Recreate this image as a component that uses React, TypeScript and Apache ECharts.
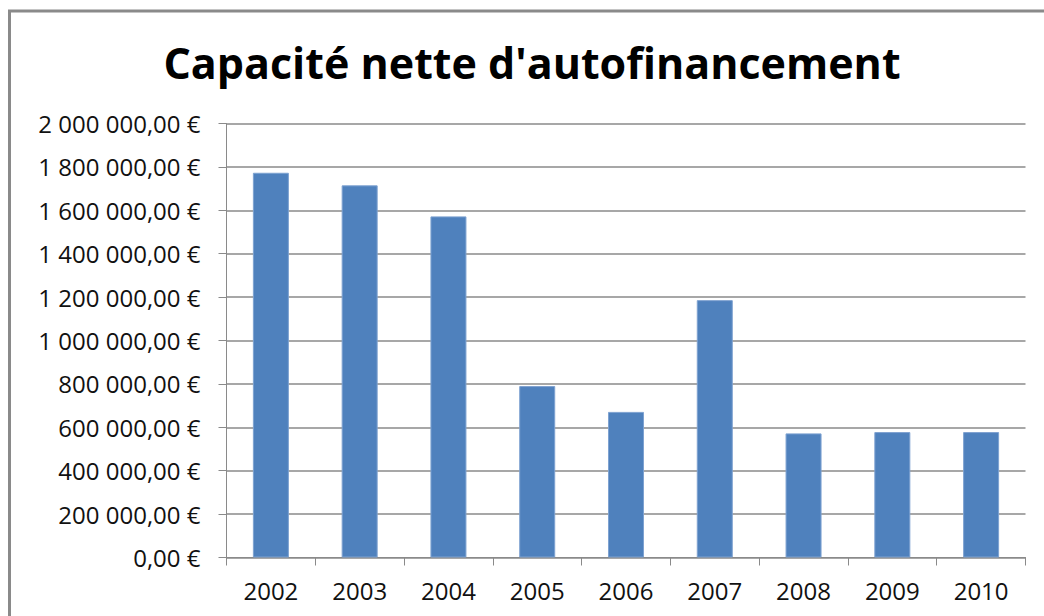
import React, { useEffect, useRef } from "react";
import * as echarts from "echarts";

const TITLE = "Capacité nette d'autofinancement";
const YEARS = ["2002", "2003", "2004", "2005", "2006", "2007", "2008", "2009", "2010"];
const VALUES = [1773000, 1715000, 1572000, 790000, 671000, 1186000, 572000, 578000, 578000];
const Y_MIN = 0;
const Y_MAX = 2000000;
const Y_STEP = 200000;

function formatEuro(v: number): string {
  const whole = Math.round(v).toString().replace(/\B(?=(\d{3})+(?!\d))/g, " ");
  return whole + ",00 €";
}

export default function App() {
  const ref = useRef<HTMLDivElement>(null);
  useEffect(() => {
    if (!ref.current) return;
    const chart = echarts.init(ref.current, undefined, { renderer: "svg" });
    const grey = "#8a8a8a";
    chart.setOption({
      animation: false,
      backgroundColor: "#ffffff",
      title: {
        text: TITLE,
        left: 527,
        top: 36,
        textAlign: "center",
        textStyle: {
          fontFamily: "Open Sans",
          fontWeight: "bold",
          fontSize: 43,
          color: "#000000",
        },
      },
      graphic: [
        {
          type: "rect",
          shape: { x: 9.5, y: 11, width: 1200, height: 800 },
          style: { fill: "none", stroke: grey, lineWidth: 3 },
          silent: true,
        },
      ],
      grid: { left: 226.5, right: 18.5, top: 123.5, bottom: 58.5, containLabel: false },
      xAxis: {
        type: "category",
        data: YEARS,
        axisLine: { show: true, lineStyle: { color: grey, width: 1 } },
        axisTick: { show: true, length: 8, alignWithLabel: false, lineStyle: { color: grey } },
        axisLabel: {
          margin: 21,
          fontFamily: "Open Sans",
          fontSize: 24,
          color: "#111111",
        },
        splitLine: { show: false },
      },
      yAxis: {
        type: "value",
        min: Y_MIN,
        max: Y_MAX,
        interval: Y_STEP,
        axisLine: { show: true, lineStyle: { color: grey, width: 1 } },
        axisTick: { show: true, length: 8, inside: false, lineStyle: { color: grey } },
        axisLabel: {
          margin: 26,
          fontFamily: "Open Sans",
          fontSize: 24,
          color: "#111111",
          formatter: (v: number) => formatEuro(v),
        },
        splitLine: { show: true, lineStyle: { color: grey, width: 1.5 } },
      },
      series: [
        {
          type: "bar",
          data: VALUES,
          barWidth: 36,
          itemStyle: { color: "#4F81BD", borderColor: "#7ea2d1", borderWidth: 1 },
        },
      ],
    });
    return () => chart.dispose();
  }, []);
  return (
    <div
      ref={ref}
      style={{ position: "absolute", left: 0, top: 0, width: 1044, height: 616 }}
    />
  );
}
